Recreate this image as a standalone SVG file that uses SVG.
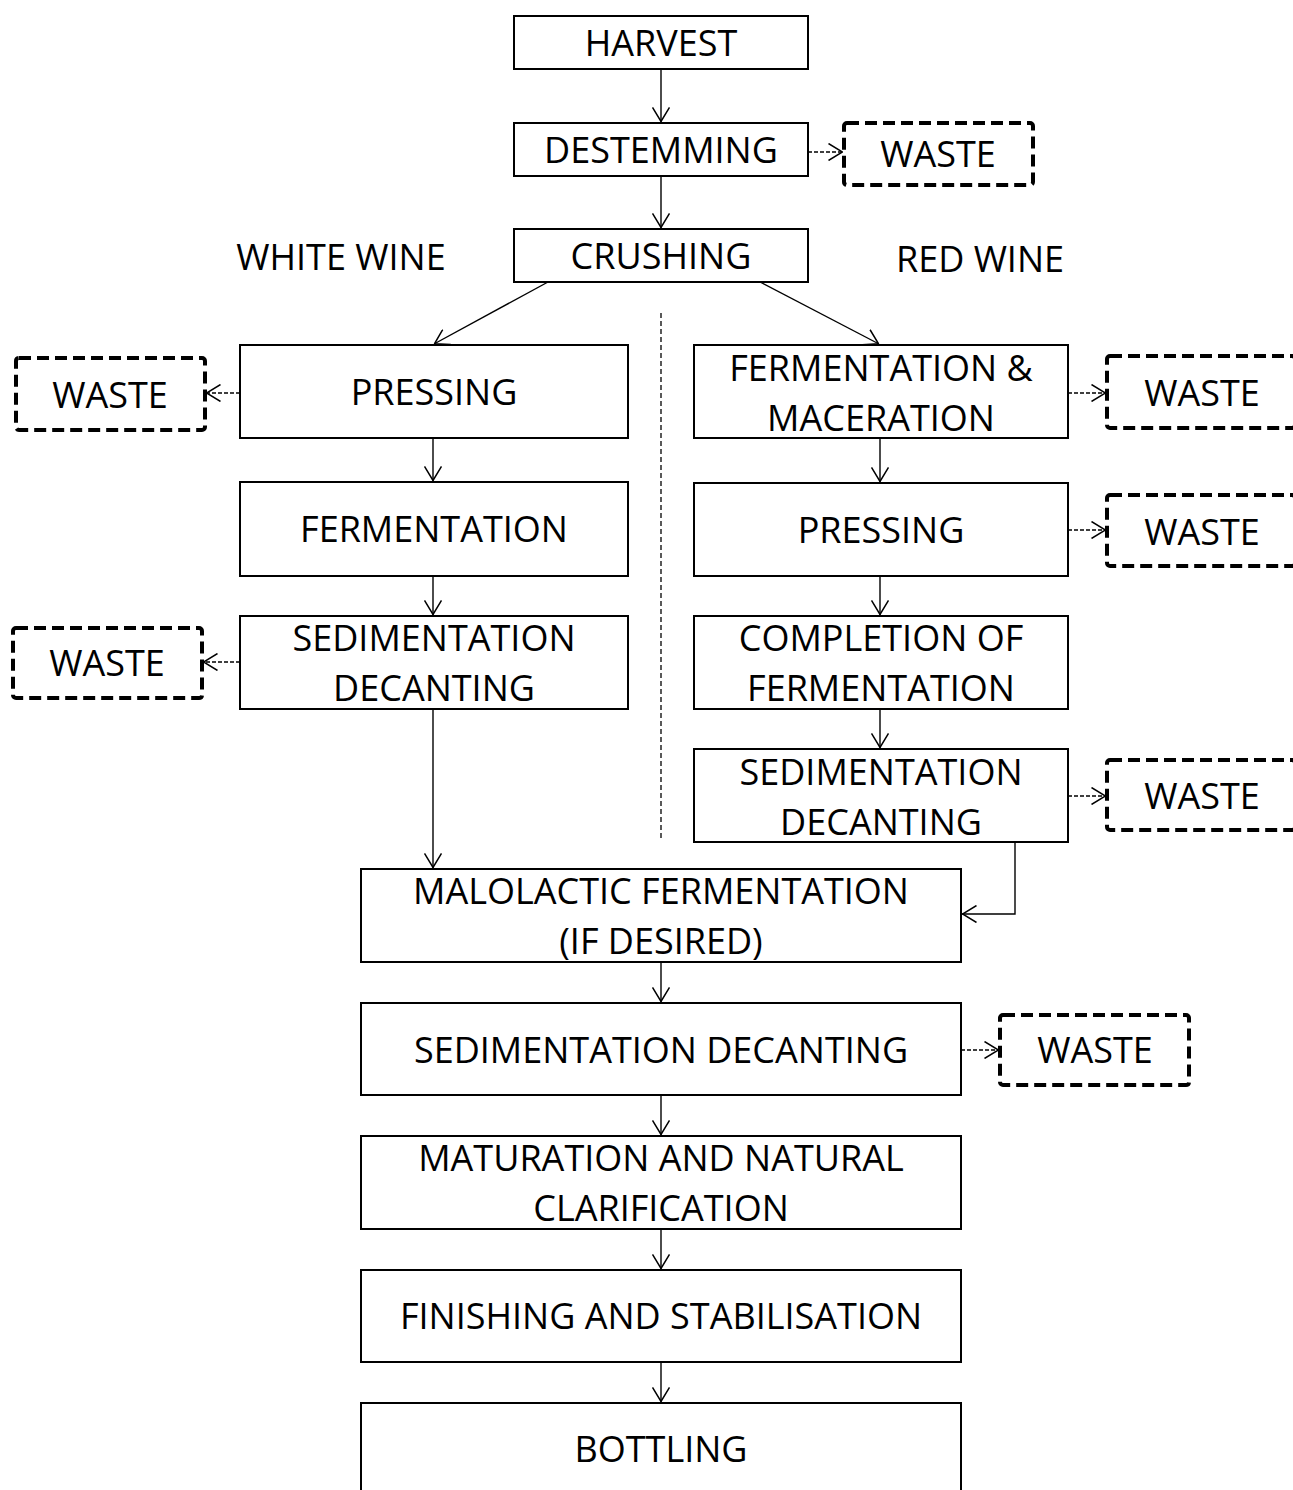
<svg xmlns="http://www.w3.org/2000/svg" width="1293" height="1490" viewBox="0 0 1293 1490">
<style>
  .box { fill: #fff; stroke: #000; stroke-width: 2; }
  .waste { fill: #fff; stroke: #000; stroke-width: 4; stroke-dasharray: 12 6; }
  .t { font-family: "Open Sans", "Liberation Sans", sans-serif; font-size: 36px; fill: #000; text-anchor: middle; }
  .c { fill: none; stroke: #000; stroke-width: 1.4; }
  .d { fill: none; stroke: #000; stroke-width: 1.3; stroke-dasharray: 4 2; }
  .div { fill: none; stroke: #000; stroke-width: 1.3; stroke-dasharray: 5 3; }
</style>
<defs>
  <marker id="ah" viewBox="0 0 15 18" refX="15" refY="9" markerWidth="15" markerHeight="18" markerUnits="userSpaceOnUse" orient="auto">
    <path d="M0.5,0.5 L14.5,9 L0.5,17.5" fill="none" stroke="#000" stroke-width="1.5"/>
  </marker>
</defs>
<rect width="1293" height="1490" fill="#fff"/>

<g id="connectors">
  <line class="c" x1="661" y1="69" x2="661" y2="122" marker-end="url(#ah)"/>
  <line class="d" x1="808" y1="152" x2="843" y2="152" marker-end="url(#ah)"/>
  <line class="c" x1="661" y1="176" x2="661" y2="228" marker-end="url(#ah)"/>
  <line class="c" x1="548" y1="282" x2="434" y2="344" marker-end="url(#ah)"/>
  <line class="c" x1="760" y1="282" x2="879" y2="344" marker-end="url(#ah)"/>
  <line class="div" x1="661" y1="313" x2="661" y2="840"/>
  <line class="d" x1="240" y1="393" x2="206" y2="393" marker-end="url(#ah)"/>
  <line class="c" x1="433" y1="438" x2="433" y2="481" marker-end="url(#ah)"/>
  <line class="c" x1="433" y1="576" x2="433" y2="615" marker-end="url(#ah)"/>
  <line class="d" x1="240" y1="662" x2="203" y2="662" marker-end="url(#ah)"/>
  <line class="c" x1="433" y1="709" x2="433" y2="868" marker-end="url(#ah)"/>
  <line class="d" x1="1068" y1="393" x2="1106" y2="393" marker-end="url(#ah)"/>
  <line class="c" x1="880" y1="438" x2="880" y2="482" marker-end="url(#ah)"/>
  <line class="d" x1="1068" y1="530" x2="1106" y2="530" marker-end="url(#ah)"/>
  <line class="c" x1="880" y1="576" x2="880" y2="615" marker-end="url(#ah)"/>
  <line class="c" x1="880" y1="709" x2="880" y2="748" marker-end="url(#ah)"/>
  <line class="d" x1="1068" y1="796" x2="1106" y2="796" marker-end="url(#ah)"/>
  <polyline class="c" points="1015,842 1015,914 962,914" marker-end="url(#ah)"/>
  <line class="c" x1="661" y1="962" x2="661" y2="1002" marker-end="url(#ah)"/>
  <line class="d" x1="961" y1="1050" x2="999" y2="1050" marker-end="url(#ah)"/>
  <line class="c" x1="661" y1="1095" x2="661" y2="1135" marker-end="url(#ah)"/>
  <line class="c" x1="661" y1="1229" x2="661" y2="1269" marker-end="url(#ah)"/>
  <line class="c" x1="661" y1="1362" x2="661" y2="1402" marker-end="url(#ah)"/>
</g>

<text class="t" x="341" y="270">WHITE WINE</text>
<text class="t" x="980" y="272">RED WINE</text>

<g id="harvest"><rect class="box" x="514" y="16" width="294" height="53"/><text class="t" x="661" y="56">HARVEST</text></g>
<g id="destemming"><rect class="box" x="514" y="123" width="294" height="53"/><text class="t" x="661" y="163">DESTEMMING</text></g>
<g id="waste-destemming"><rect class="waste" x="844" y="123" width="189" height="62" rx="3"/><text class="t" x="938" y="167">WASTE</text></g>
<g id="crushing"><rect class="box" x="514" y="229" width="294" height="53"/><text class="t" x="661" y="269">CRUSHING</text></g>

<g id="pressing-white"><rect class="box" x="240" y="345" width="388" height="93"/><text class="t" x="434" y="405">PRESSING</text></g>
<g id="waste-pressing-white"><rect class="waste" x="16" y="358" width="189" height="72" rx="3"/><text class="t" x="110" y="408">WASTE</text></g>
<g id="fermentation-white"><rect class="box" x="240" y="482" width="388" height="94"/><text class="t" x="434" y="542">FERMENTATION</text></g>
<g id="sed-white"><rect class="box" x="240" y="616" width="388" height="93"/><text class="t" x="434" y="651">SEDIMENTATION</text><text class="t" x="434" y="701">DECANTING</text></g>
<g id="waste-sed-white"><rect class="waste" x="13" y="628" width="189" height="70" rx="3"/><text class="t" x="107" y="676">WASTE</text></g>

<g id="ferm-mac"><rect class="box" x="694" y="345" width="374" height="93"/><text class="t" x="881" y="381">FERMENTATION &amp;</text><text class="t" x="881" y="431">MACERATION</text></g>
<g id="waste-ferm-mac"><rect class="waste" x="1107" y="356" width="188" height="72" rx="3"/><text class="t" x="1202" y="406">WASTE</text></g>
<g id="pressing-red"><rect class="box" x="694" y="483" width="374" height="93"/><text class="t" x="881" y="543">PRESSING</text></g>
<g id="waste-pressing-red"><rect class="waste" x="1107" y="495" width="188" height="71" rx="3"/><text class="t" x="1202" y="545">WASTE</text></g>
<g id="completion"><rect class="box" x="694" y="616" width="374" height="93"/><text class="t" x="881" y="651">COMPLETION OF</text><text class="t" x="881" y="701">FERMENTATION</text></g>
<g id="sed-red"><rect class="box" x="694" y="749" width="374" height="93"/><text class="t" x="881" y="785">SEDIMENTATION</text><text class="t" x="881" y="835">DECANTING</text></g>
<g id="waste-sed-red"><rect class="waste" x="1107" y="760" width="188" height="70" rx="3"/><text class="t" x="1202" y="809">WASTE</text></g>

<g id="malolactic"><rect class="box" x="361" y="869" width="600" height="93"/><text class="t" x="661" y="904">MALOLACTIC FERMENTATION</text><text class="t" x="661" y="954">(IF DESIRED)</text></g>
<g id="sed-decanting"><rect class="box" x="361" y="1003" width="600" height="92"/><text class="t" x="661" y="1063">SEDIMENTATION DECANTING</text></g>
<g id="waste-sed-decanting"><rect class="waste" x="1000" y="1015" width="189" height="70" rx="3"/><text class="t" x="1095" y="1063">WASTE</text></g>
<g id="maturation"><rect class="box" x="361" y="1136" width="600" height="93"/><text class="t" x="661" y="1171">MATURATION AND NATURAL</text><text class="t" x="661" y="1221">CLARIFICATION</text></g>
<g id="finishing"><rect class="box" x="361" y="1270" width="600" height="92"/><text class="t" x="661" y="1329">FINISHING AND STABILISATION</text></g>
<g id="bottling"><rect class="box" x="361" y="1403" width="600" height="100"/><text class="t" x="661" y="1462">BOTTLING</text></g>
</svg>
